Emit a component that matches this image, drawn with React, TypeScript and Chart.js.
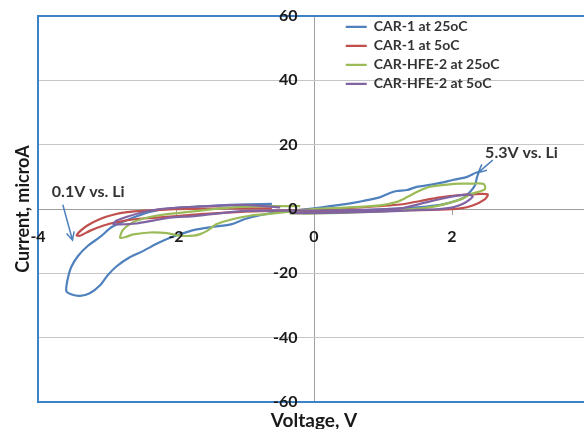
import { useEffect, useRef } from "react";
import { Chart, registerables } from "chart.js";

Chart.register(...registerables);

const FONT = "Lato, 'Liberation Sans', sans-serif";
const TEXT_COLOR = "#1a1a1a";
const GRID_COLOR = "#c6c6c6";
const AXIS_COLOR = "#a0a0a0";
const FRAME_COLOR = "#3b82c8";

const seriesNames = ["CAR-1 at 25oC", "CAR-1 at 5oC", "CAR-HFE-2 at 25oC", "CAR-HFE-2 at 5oC"];
const seriesColors = ["#4f81bd", "#c0504d", "#9bbb59", "#8064a2"];

// CAR-1 at 25oC
const car1Hot_V = [
  -0.61, -1.22, -1.65, -2.09, -2.38, -2.67, -2.93, -3.1, -3.28, -3.42, -3.52, -3.57, -3.59,
  -3.51, -3.39, -3.25, -3.1, -2.99, -2.86, -2.67, -2.48, -2.26, -2.06, -1.94, -1.73, -1.48,
  -1.19, -1.0, -0.78, -0.49, -0.2, 0.0, 0.23, 0.48, 0.71, 0.96, 1.1, 1.2, 1.35, 1.49, 1.68,
  1.83, 2.01, 2.22, 2.38, 2.36, 2.33, 2.26, 2.16, 2.01, 1.83, 1.54, 1.25, 0.81, 0.38, 0.0,
  -0.35, -0.61,
];
const car1Hot_I = [
  1.6, 1.3, 0.8, 0.2, -0.9, -3.1, -5.6, -8.7, -11.5, -14.6, -18.1, -21.8, -25.5,
  -26.6, -27.0, -26.2, -23.7, -20.6, -17.8, -15.0, -13.1, -10.6, -8.7, -7.8, -6.5, -5.6,
  -4.7, -3.1, -1.9, -0.9, -0.3, 0.2, 0.9, 1.6, 2.5, 3.7, 5.0, 5.6, 5.9, 6.9, 7.5,
  8.1, 9.0, 10.0, 11.5, 9.7, 7.2, 5.3, 3.4, 2.2, 1.3, 0.6, 0.2, -0.3, -0.6, -0.8,
  -0.8, -0.6,
];

// CAR-1 at 5oC
const car1Cold_V = [
  -0.61, -1.22, -1.65, -2.09, -2.42, -2.71, -2.91, -3.1, -3.29, -3.44, -3.39, -3.25, -3.06,
  -2.86, -2.57, -2.23, -1.94, -1.65, -1.0, -0.49, 0.0, 0.67, 1.25, 1.54, 1.83, 2.12, 2.41,
  2.52, 2.48, 2.3, 2.12, 1.83, 1.25, 0.52, -0.2, -0.61,
];
const car1Cold_I = [
  0.2, 0.2, 0.1, -0.1, -0.5, -1.0, -1.8, -3.1, -5.2, -8.1, -8.3, -6.8, -5.2,
  -4.1, -3.1, -2.6, -2.1, -1.6, -0.8, -0.5, -0.2, 0.5, 1.4, 2.5, 3.6, 4.3, 4.7,
  4.5, 3.1, 1.1, 0.2, -0.2, -0.4, -0.6, -0.6, -0.6,
];

// CAR-HFE-2 at 25oC
const hfeHot_V = [
  -0.2, -0.68, -1.17, -1.65, -2.13, -2.38, -2.62, -2.77, -2.81, -2.73, -2.62, -2.38, -2.13,
  -1.94, -1.75, -1.65, -1.55, -1.41, -1.17, -0.93, -0.68, -0.35, 0.0, 0.52, 0.96, 1.2, 1.35,
  1.49, 1.68, 1.93, 2.12, 2.3, 2.46, 2.48, 2.41, 2.26, 2.16, 2.01, 1.78, 1.54, 1.1, 0.52,
  0.0, -0.35,
];
const hfeHot_I = [
  0.9, 0.9, 0.5, -0.5, -1.6, -2.5, -4.1, -6.5, -9.0, -8.7, -7.9, -7.3, -7.5,
  -8.3, -8.3, -7.8, -6.8, -4.7, -3.1, -2.1, -1.6, -0.8, 0.0, 0.5, 1.1, 2.2, 3.7,
  5.3, 6.9, 7.6, 7.9, 7.9, 7.8, 6.2, 5.5, 4.5, 3.3, 2.2, 0.9, 0.2, -0.6, -1.1,
  -1.4, -1.4,
];

// CAR-HFE-2 at 5oC
const hfeCold_V = [
  -0.49, -1.0, -1.73, -2.23, -2.48, -2.71, -2.86, -2.91, -2.81, -2.57, -2.33, -2.09, -1.73,
  -1.48, -1.0, -0.49, 0.0, 0.67, 1.25, 1.54, 1.83, 2.01, 2.16, 2.26, 2.3, 2.26, 2.16, 2.01,
  1.78, 1.54, 0.96, 0.38, 0.0, -0.35,
];
const hfeCold_I = [
  0.5, 1.3, 0.7, 0.0, -1.0, -2.4, -3.6, -4.7, -4.8, -4.5, -3.6, -2.7, -2.2,
  -1.6, -0.6, -0.5, -0.5, -0.3, 0.2, 1.6, 3.1, 3.9, 4.4, 4.4, 3.9, 3.0, 1.6, 0.5,
  -0.1, -0.3, -0.8, -1.1, -1.3, -1.3,
];

const seriesVoltages = [car1Hot_V, car1Cold_V, hfeHot_V, hfeCold_V];
const seriesCurrents = [car1Hot_I, car1Cold_I, hfeHot_I, hfeCold_I];

// Callouts marking the scan limits
const noteTexts = ["0.1V vs. Li", "5.3V vs. Li"];
const noteTextX = [-3.8, 2.48];
const noteTextY = [5.3, 17.4];
const noteArrowFromX = [-3.64, 2.59];
const noteArrowFromY = [1.3, 15.2];
const noteArrowToX = [-3.5, 2.38];
const noteArrowToY = [-9.7, 11.3];

const X_MIN = -4;
const X_MAX = 4;
const X_STEP = 2;
const Y_MIN = -60;
const Y_MAX = 60;
const Y_STEP = 20;

// y tick labels sit just left of the vertical zero line
const Y_LABEL_ANCHOR = -0.24;
// legend anchor (top-left line start) in data units
const LEGEND_X = 0.46;
const LEGEND_Y = 56.6;

const xTitle = "Voltage, V";
const yTitle = "Current, microA";

const plotFrame = {
  id: "plotFrame",
  beforeDatasetsDraw(chart: any) {
    const { ctx, chartArea } = chart;
    ctx.save();
    ctx.strokeStyle = FRAME_COLOR;
    ctx.lineWidth = 2;
    ctx.strokeRect(chartArea.left, chartArea.top, chartArea.right - chartArea.left, chartArea.bottom - chartArea.top);
    ctx.restore();
  },
};

const legendPlacement = {
  id: "legendPlacement",
  beforeDraw(chart: any) {
    const lg = chart.legend;
    if (!lg) return;
    const pad = lg.options.labels.padding;
    const half = lg.options.labels.font.size / 2;
    const left = chart.scales.x.getPixelForValue(LEGEND_X) - pad;
    const top = chart.scales.y.getPixelForValue(LEGEND_Y) - half - pad;
    const w = lg.width;
    const h = lg.height;
    lg.left = left;
    lg.right = left + w;
    lg.top = top;
    lg.bottom = top + h;
  },
};

const callouts = {
  id: "callouts",
  afterDatasetsDraw(chart: any) {
    const { ctx } = chart;
    const xs = chart.scales.x;
    const ys = chart.scales.y;
    ctx.save();
    for (let i = 0; i < noteTexts.length; i++) {
      const fx = xs.getPixelForValue(noteArrowFromX[i]);
      const fy = ys.getPixelForValue(noteArrowFromY[i]);
      const tx = xs.getPixelForValue(noteArrowToX[i]);
      const ty = ys.getPixelForValue(noteArrowToY[i]);
      ctx.strokeStyle = seriesColors[0];
      ctx.lineWidth = 1.5;
      ctx.beginPath();
      ctx.moveTo(fx, fy);
      ctx.lineTo(tx, ty);
      const ang = Math.atan2(ty - fy, tx - fx);
      const head = 9;
      ctx.moveTo(tx - head * Math.cos(ang - 0.45), ty - head * Math.sin(ang - 0.45));
      ctx.lineTo(tx, ty);
      ctx.lineTo(tx - head * Math.cos(ang + 0.45), ty - head * Math.sin(ang + 0.45));
      ctx.stroke();

      ctx.fillStyle = "#333333";
      ctx.font = `bold 16px ${FONT}`;
      ctx.textAlign = "left";
      ctx.textBaseline = "middle";
      ctx.fillText(noteTexts[i], xs.getPixelForValue(noteTextX[i]), ys.getPixelForValue(noteTextY[i]));
    }
    ctx.restore();
  },
};

export default function App() {
  const canvasRef = useRef<HTMLCanvasElement | null>(null);

  useEffect(() => {
    const canvas = canvasRef.current;
    if (!canvas) return;

    const datasets = seriesNames.map((name, i) => ({
      label: name,
      data: seriesVoltages[i].map((v, k) => ({ x: v, y: seriesCurrents[i][k] })),
      borderColor: seriesColors[i],
      backgroundColor: seriesColors[i],
      borderWidth: 2.2,
      showLine: true,
      pointRadius: 0,
      tension: 0.25,
      fill: false,
      xAxisID: "x",
      yAxisID: "y",
      order: seriesNames.length - 1 - i,
    }));

    const tickFont = { family: FONT, size: 16, weight: "bold" as const };

    const chart = new Chart(canvas, {
      type: "scatter",
      data: { datasets },
      options: {
        responsive: false,
        animation: false,
        devicePixelRatio: 1,
        layout: { padding: { left: 8.4, top: 16, right: 20, bottom: 8.2 } },
        plugins: {
          tooltip: { enabled: false },
          legend: {
            display: true,
            position: "chartArea",
            align: "start",
            labels: {
              usePointStyle: true,
              pointStyle: "line",
              pointStyleWidth: 21,
              padding: 5,
              color: "#333333",
              font: { family: FONT, size: 14, weight: "bold" },
              sort: (a: any, b: any) => a.datasetIndex - b.datasetIndex,
            },
          },
        },
        scales: {
          x: {
            type: "linear",
            position: { y: 0 } as any,
            min: X_MIN,
            max: X_MAX,
            ticks: { stepSize: X_STEP, font: tickFont, color: TEXT_COLOR, padding: 13, z: 1 },
            grid: {
              drawOnChartArea: true,
              drawTicks: true,
              tickLength: 5,
              color: (c: any) => (c.tick && c.tick.value === 0 ? AXIS_COLOR : "rgba(0,0,0,0)"),
              tickColor: AXIS_COLOR,
            },
            border: { display: true, color: AXIS_COLOR, width: 1 },
          },
          y: {
            type: "linear",
            position: { x: Y_LABEL_ANCHOR } as any,
            min: Y_MIN,
            max: Y_MAX,
            ticks: { stepSize: Y_STEP, font: tickFont, color: TEXT_COLOR, padding: 0, z: 1 },
            grid: { color: GRID_COLOR, drawTicks: false },
            border: { display: false },
          },
          xTitleAxis: {
            type: "linear",
            axis: "x",
            position: "bottom",
            display: true,
            ticks: { display: false },
            grid: { display: false, drawTicks: false },
            border: { display: false },
            title: {
              display: true,
              text: xTitle,
              font: { family: FONT, size: 19, weight: "bold" },
              color: TEXT_COLOR,
              padding: { top: 7, bottom: 0 },
            },
          },
          yTitleAxis: {
            type: "linear",
            axis: "y",
            position: "left",
            display: true,
            ticks: { display: false },
            grid: { display: false, drawTicks: false },
            border: { display: false },
            title: {
              display: true,
              text: yTitle,
              font: { family: FONT, size: 18, weight: "bold" },
              color: TEXT_COLOR,
              padding: { top: 4, bottom: 4 },
            },
          },
        } as any,
      },
      plugins: [plotFrame, legendPlacement, callouts],
    });

    return () => chart.destroy();
  }, []);

  return (
    <div style={{ position: "fixed", left: 0, top: 0, width: 584, height: 429, overflow: "hidden", background: "#ffffff" }}>
      <canvas ref={canvasRef} width={610} height={440} style={{ display: "block" }} />
    </div>
  );
}
